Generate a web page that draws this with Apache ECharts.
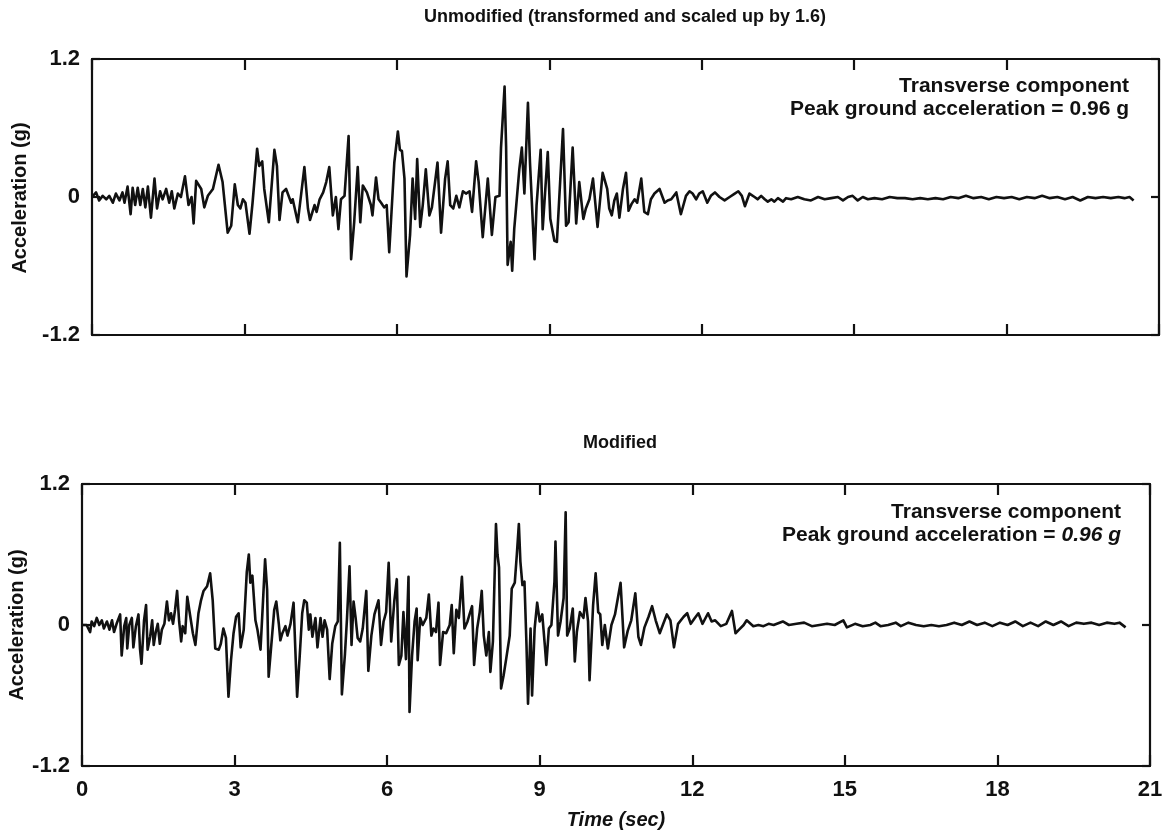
<!DOCTYPE html>
<html>
<head>
<meta charset="utf-8">
<script src="https://cdn.jsdelivr.net/npm/echarts@6/dist/echarts.min.js"></script>
<style>
  html, body { margin: 0; padding: 0; background: #fff; }
  #chart { width: 1167px; height: 834px; }
</style>
</head>
<body>
<div id="chart"></div>
<script>
// time (sec), acceleration (g)
var timeTicks = [0, 3, 6, 9, 12, 15, 18, 21];
var accelTicks = [-1.2, 0, 1.2];

var unmodified = [
  [0,0],[0.08,0.04],[0.14,-0.03],[0.21,0.01],[0.28,-0.02],[0.34,0.01],[0.41,-0.05],[0.47,0.03],[0.54,-0.03],[0.6,0.04],
  [0.64,-0.05],[0.7,0.09],[0.76,-0.15],[0.8,0.08],[0.85,-0.07],[0.9,0.08],[0.95,-0.07],[1.0,0.07],[1.05,-0.09],[1.1,0.09],
  [1.16,-0.18],[1.23,0.16],[1.28,-0.1],[1.34,0.05],[1.39,-0.02],[1.46,0.07],[1.52,-0.05],[1.57,0.05],[1.62,-0.1],[1.69,0.03],
  [1.75,0],[1.83,0.18],[1.9,-0.07],[1.96,0],[2.0,-0.23],[2.05,0.14],[2.15,0.07],[2.21,-0.09],[2.28,0.01],[2.38,0.07],
  [2.49,0.28],[2.57,0.13],[2.67,-0.31],[2.74,-0.25],[2.81,0.11],[2.87,-0.07],[2.92,-0.1],[2.97,-0.02],[3.02,-0.05],[3.1,-0.32],
  [3.16,-0.05],[3.25,0.42],[3.29,0.27],[3.35,0.31],[3.39,0.07],[3.48,-0.22],[3.59,0.41],[3.64,0.27],[3.69,-0.2],[3.75,0.04],
  [3.82,0.07],[3.92,-0.05],[3.95,-0.02],[4.05,-0.22],[4.18,0.26],[4.25,-0.1],[4.29,-0.2],[4.38,-0.07],[4.42,-0.13],[4.48,-0.02],
  [4.55,0.04],[4.61,0.13],[4.67,0.26],[4.74,-0.16],[4.8,0],[4.85,-0.28],[4.9,-0.02],[4.97,0.01],[5.05,0.53],[5.1,-0.54],
  [5.16,-0.22],[5.23,0.26],[5.28,-0.22],[5.33,0.1],[5.41,0.04],[5.49,-0.07],[5.52,-0.16],[5.59,0.17],[5.64,-0.02],[5.69,-0.05],
  [5.75,-0.09],[5.8,-0.07],[5.85,-0.48],[5.95,0.3],[6.02,0.57],[6.06,0.41],[6.1,0.4],[6.15,0.16],[6.19,-0.69],[6.26,-0.33],
  [6.31,0.16],[6.36,-0.19],[6.4,0.33],[6.46,-0.26],[6.51,-0.07],[6.57,0.24],[6.64,-0.16],[6.69,-0.09],[6.8,0.3],[6.87,-0.31],
  [6.95,0.16],[7.0,0.31],[7.05,-0.07],[7.11,-0.1],[7.17,0.01],[7.23,-0.09],[7.3,0.05],[7.36,0.03],[7.43,0.05],[7.48,-0.13],
  [7.56,0.31],[7.61,0.13],[7.69,-0.35],[7.79,0.16],[7.87,-0.33],[7.94,0],[8.02,0.01],[8.05,0.43],[8.12,0.96],[8.15,0.44],
  [8.18,-0.59],[8.24,-0.39],[8.27,-0.64],[8.31,-0.28],[8.41,0.24],[8.46,0.43],[8.51,0.03],[8.58,0.82],[8.62,0.3],[8.71,-0.54],
  [8.75,-0.07],[8.83,0.41],[8.87,-0.28],[8.97,0.39],[9.02,-0.19],[9.1,-0.38],[9.15,-0.39],[9.27,0.59],[9.33,-0.25],[9.38,-0.22],
  [9.46,0.43],[9.53,-0.23],[9.59,0.13],[9.67,-0.19],[9.72,-0.1],[9.79,-0.02],[9.86,0.16],[9.95,-0.26],[10.05,0.21],[10.14,0.07],
  [10.18,-0.1],[10.23,-0.16],[10.28,-0.03],[10.33,0.03],[10.38,-0.18],[10.45,0.07],[10.51,0.21],[10.56,-0.12],[10.62,-0.06],[10.68,-0.02],
  [10.73,-0.05],[10.81,0.16],[10.87,-0.13],[10.94,-0.15],[11.0,-0.02],[11.07,0.03],[11.17,0.07],[11.27,-0.05],[11.33,-0.03],[11.4,-0.02],
  [11.5,0.04],[11.59,-0.15],[11.69,0.01],[11.76,0.05],[11.82,0.03],[11.89,-0.02],[11.95,0.03],[12.02,0.05],[12.11,-0.05],[12.18,0.01],
  [12.26,0.04],[12.35,0],[12.45,-0.03],[12.55,0],[12.65,0.03],[12.72,0.05],[12.79,0.01],[12.85,-0.08],[12.94,0.03],[13.04,0],
  [13.1,-0.02],[13.17,0.01],[13.24,-0.02],[13.3,-0.04],[13.37,-0.02],[13.43,-0.04],[13.5,-0.01],[13.6,-0.04],[13.66,-0.01],[13.76,-0.02],
  [13.89,0],[14.02,-0.02],[14.15,-0.03],[14.29,0],[14.42,-0.02],[14.55,-0.01],[14.68,0],[14.78,-0.03],[14.88,0],[14.97,0.01],
  [15.07,-0.03],[15.17,0],[15.27,-0.02],[15.4,-0.01],[15.55,-0.02],[15.7,0],[15.85,-0.01],[16.0,-0.01],[16.15,-0.02],[16.3,-0.01],
  [16.45,-0.02],[16.6,-0.01],[16.75,-0.02],[16.9,0],[17.05,-0.01],[17.2,0.01],[17.35,-0.01],[17.5,0],[17.65,-0.02],[17.8,0],
  [17.95,-0.01],[18.1,0],[18.25,-0.02],[18.4,0],[18.55,-0.01],[18.7,0.01],[18.85,-0.01],[19.0,0],[19.15,-0.02],[19.3,0],
  [19.45,-0.03],[19.6,0],[19.75,-0.01],[19.9,0],[20.05,-0.01],[20.2,0],[20.32,-0.01],[20.42,0],[20.5,-0.03]
];

var modified = [
  [0,0],[0.09,0],[0.16,-0.06],[0.19,0.03],[0.24,-0.01],[0.29,0.06],[0.34,0],[0.39,0.04],[0.43,-0.03],[0.49,0.03],
  [0.54,-0.04],[0.59,0.04],[0.63,-0.06],[0.68,0.01],[0.75,0.09],[0.78,-0.26],[0.83,-0.01],[0.87,0.06],[0.89,-0.2],[0.93,0],
  [0.98,0.06],[1.01,-0.19],[1.06,-0.01],[1.11,0.09],[1.14,-0.2],[1.17,-0.33],[1.22,0.04],[1.26,0.17],[1.29,-0.21],[1.34,-0.1],
  [1.38,0.04],[1.41,-0.17],[1.45,-0.06],[1.49,0.01],[1.53,-0.16],[1.57,-0.04],[1.62,0.01],[1.67,0.2],[1.71,0.04],[1.75,0.1],
  [1.79,0.01],[1.83,0.13],[1.87,0.29],[1.91,0.03],[1.95,-0.14],[1.98,-0.01],[2.03,-0.07],[2.07,0.24],[2.13,0.07],[2.18,-0.07],
  [2.23,-0.17],[2.29,0.1],[2.34,0.21],[2.39,0.29],[2.46,0.33],[2.52,0.44],[2.57,0.21],[2.62,-0.2],[2.69,-0.21],[2.73,-0.16],
  [2.78,-0.03],[2.83,-0.11],[2.88,-0.61],[2.93,-0.3],[2.98,-0.07],[3.03,0.07],[3.08,0.1],[3.12,-0.19],[3.18,-0.04],[3.24,0.45],
  [3.28,0.6],[3.31,0.36],[3.35,0.42],[3.41,0.04],[3.45,-0.04],[3.51,-0.21],[3.56,0.21],[3.6,0.56],[3.64,0.3],[3.67,-0.44],
  [3.73,-0.13],[3.78,0.13],[3.82,0.2],[3.87,0.01],[3.9,-0.13],[3.94,-0.07],[4.0,-0.01],[4.04,-0.09],[4.1,0.01],[4.16,0.19],
  [4.23,-0.61],[4.28,-0.27],[4.33,0.1],[4.37,0.21],[4.42,0.19],[4.46,-0.04],[4.49,0.09],[4.53,-0.1],[4.59,0.06],[4.63,-0.19],
  [4.69,0.06],[4.73,-0.1],[4.77,0.04],[4.82,-0.04],[4.87,-0.46],[4.92,-0.16],[4.98,-0.01],[5.03,0.03],[5.07,0.7],[5.11,-0.59],
  [5.17,-0.25],[5.21,0.05],[5.26,0.5],[5.3,-0.17],[5.34,0.2],[5.38,0.06],[5.42,-0.11],[5.47,-0.14],[5.52,-0.03],[5.59,0.29],
  [5.63,-0.39],[5.69,-0.09],[5.75,0.09],[5.83,0.21],[5.88,-0.17],[5.93,0.03],[5.98,0.11],[6.03,0.53],[6.08,-0.14],[6.14,0.2],
  [6.19,0.39],[6.23,-0.34],[6.28,-0.26],[6.32,0.11],[6.37,-0.29],[6.42,0.41],[6.44,-0.74],[6.49,-0.26],[6.54,0.03],[6.58,0.14],
  [6.6,-0.3],[6.65,0.06],[6.7,0],[6.77,0.06],[6.82,0.26],[6.87,-0.09],[6.91,-0.03],[6.96,-0.06],[7.01,0.19],[7.04,-0.34],
  [7.1,-0.06],[7.16,-0.07],[7.23,0],[7.27,0.17],[7.31,-0.24],[7.36,0.13],[7.41,0.06],[7.47,0.41],[7.52,-0.03],[7.58,0.03],
  [7.62,0.09],[7.67,0.16],[7.71,-0.34],[7.77,-0.03],[7.82,0.11],[7.86,0.29],[7.9,-0.09],[7.95,-0.26],[8.0,-0.06],[8.03,-0.4],
  [8.08,-0.14],[8.14,0.86],[8.17,0.6],[8.2,0.49],[8.24,-0.54],[8.29,-0.43],[8.34,-0.29],[8.41,-0.09],[8.45,0.31],[8.51,0.36],
  [8.55,0.6],[8.59,0.86],[8.62,0.54],[8.66,0.34],[8.7,0.37],[8.74,-0.17],[8.77,-0.67],[8.82,-0.03],[8.85,-0.6],[8.9,-0.03],
  [8.95,0.19],[9.0,0.03],[9.05,0.09],[9.1,-0.17],[9.13,-0.34],[9.18,-0.03],[9.23,0],[9.29,0.37],[9.31,0.71],[9.36,-0.09],
  [9.41,0.03],[9.47,0.23],[9.51,0.96],[9.54,-0.09],[9.59,-0.03],[9.65,0.14],[9.69,-0.31],[9.73,-0.06],[9.79,0.11],[9.86,0.06],
  [9.9,0.23],[9.95,0.03],[9.98,-0.47],[10.05,0.17],[10.1,0.44],[10.15,0.11],[10.19,0.09],[10.23,-0.17],[10.28,0],[10.34,-0.2],
  [10.41,0],[10.48,0.09],[10.59,0.36],[10.66,-0.19],[10.73,-0.05],[10.8,0.04],[10.88,0.27],[10.94,-0.1],[10.99,-0.17],[11.06,-0.02],
  [11.14,0.07],[11.21,0.16],[11.28,0.04],[11.36,-0.07],[11.43,0.01],[11.5,0.09],[11.57,0.04],[11.64,-0.19],[11.72,0.01],[11.83,0.07],
  [11.9,0.1],[11.97,0.01],[12.05,0.06],[12.12,0.1],[12.2,0.01],[12.31,0.1],[12.38,0.03],[12.45,0.04],[12.56,-0.01],[12.67,0.01],
  [12.78,0.12],[12.85,-0.07],[12.92,-0.04],[13.01,0],[13.07,0.04],[13.2,-0.01],[13.3,0],[13.4,-0.01],[13.5,0.01],[13.6,0],
  [13.78,0.03],[13.9,0],[14.05,0.01],[14.2,0.02],[14.35,-0.01],[14.5,0],[14.65,0.01],[14.8,0],[14.97,0.04],[15.04,-0.02],
  [15.2,0.01],[15.35,-0.01],[15.5,0],[15.6,0.02],[15.7,-0.01],[15.85,0],[16.0,0.02],[16.1,-0.01],[16.25,0.02],[16.4,0],
  [16.55,-0.01],[16.7,0],[16.85,-0.01],[17.0,0],[17.15,0.02],[17.3,0],[17.45,0.03],[17.6,0],[17.75,0.02],[17.9,-0.01],
  [18.05,0.02],[18.2,0],[18.35,0.03],[18.5,-0.01],[18.65,0.02],[18.8,-0.01],[18.95,0.03],[19.1,0],[19.25,0.03],[19.4,-0.01],
  [19.55,0.02],[19.7,0.01],[19.85,0.02],[20.0,0],[20.15,0.02],[20.3,0.01],[20.4,0.02],[20.52,-0.02]
];

var FONT = '"Liberation Sans", Arial, sans-serif';
var INK = '#111';

// one labelled axis plus a bare mirror axis on the opposite edge, so each panel is boxed
function xAxes(grid, withLabels) {
  var base = {
    type: 'value', gridIndex: grid, min: 0, max: 21, interval: 3,
    axisLine: { onZero: false, lineStyle: { color: INK, width: 2.2 } },
    axisTick: { inside: true, length: 11, lineStyle: { color: INK, width: 2.2 } },
    splitLine: { show: false }
  };
  return [
    echarts.util.merge({
      position: 'bottom',
      axisLabel: {
        show: withLabels, margin: 13, color: INK, fontFamily: FONT,
        fontWeight: 'bold', fontSize: 22,
        formatter: function (v) { return timeTicks.indexOf(v) >= 0 ? String(v) : ''; }
      }
    }, base, true),
    echarts.util.merge({ position: 'top', axisLabel: { show: false } }, base, true)
  ];
}

function yAxes(grid) {
  var base = {
    type: 'value', gridIndex: grid, min: -1.2, max: 1.2, interval: 1.2,
    axisLine: { onZero: false, lineStyle: { color: INK, width: 2.2 } },
    axisTick: { inside: true, length: 8, lineStyle: { color: INK, width: 2.2 } },
    splitLine: { show: false }
  };
  return [
    echarts.util.merge({
      position: 'left',
      axisLabel: {
        margin: 12, color: INK, fontFamily: FONT, fontWeight: 'bold', fontSize: 22,
        formatter: function (v) {
          var i = accelTicks.indexOf(Math.round(v * 10) / 10);
          return i >= 0 ? String(accelTicks[i]) : '';
        }
      }
    }, base, true),
    echarts.util.merge({ position: 'right', axisLabel: { show: false } }, base, true)
  ];
}

function note(x, y, italicValue) {
  return {
    type: 'text', x: x, y: y,
    style: {
      text: '{a|Transverse component}\n{a|Peak ground acceleration = }{' + (italicValue ? 'i' : 'a') + '|0.96 g}',
      align: 'right', verticalAlign: 'top',
      rich: {
        a: { fontFamily: FONT, fontWeight: 'bold', fontSize: 21, fill: INK, lineHeight: 23 },
        i: { fontFamily: FONT, fontWeight: 'bold', fontStyle: 'italic', fontSize: 21, fill: INK, lineHeight: 23 }
      }
    }
  };
}

var myChart = echarts.init(document.getElementById('chart'));

var option = {
  backgroundColor: '#fff',
  animation: false,
  grid: [
    { left: 92, top: 59, width: 1067, height: 276 },
    { left: 82, top: 484, width: 1068, height: 282 }
  ],
  xAxis: xAxes(0, false).concat(xAxes(1, true)),
  yAxis: yAxes(0).concat(yAxes(1)),
  series: [
    {
      type: 'line', xAxisIndex: 0, yAxisIndex: 0, data: unmodified,
      showSymbol: false, symbol: 'none',
      lineStyle: { color: INK, width: 2.6, join: 'round' }
    },
    {
      type: 'line', xAxisIndex: 2, yAxisIndex: 2, data: modified,
      showSymbol: false, symbol: 'none',
      lineStyle: { color: INK, width: 2.6, join: 'round' }
    }
  ],
  graphic: [
    {
      type: 'text', x: 625, y: 17,
      style: { text: 'Unmodified (transformed and scaled up by 1.6)', font: 'bold 18px ' + FONT, fill: INK, align: 'center', verticalAlign: 'middle' }
    },
    {
      type: 'text', x: 620, y: 443,
      style: { text: 'Modified', font: 'bold 18px ' + FONT, fill: INK, align: 'center', verticalAlign: 'middle' }
    },
    {
      type: 'text', x: 20, y: 198, rotation: Math.PI / 2,
      style: { text: 'Acceleration (g)', font: 'bold 20px ' + FONT, fill: INK, align: 'center', verticalAlign: 'middle' }
    },
    {
      type: 'text', x: 17, y: 625, rotation: Math.PI / 2,
      style: { text: 'Acceleration (g)', font: 'bold 20px ' + FONT, fill: INK, align: 'center', verticalAlign: 'middle' }
    },
    {
      type: 'text', x: 616, y: 820,
      style: { text: 'Time (sec)', font: 'italic bold 20px ' + FONT, fill: INK, align: 'center', verticalAlign: 'middle' }
    },
    note(1129, 75, false),
    note(1121, 501, true)
  ]
};

myChart.setOption(option);
window.addEventListener('resize', function () {
  myChart.resize();
});
</script>
</body>
</html>
